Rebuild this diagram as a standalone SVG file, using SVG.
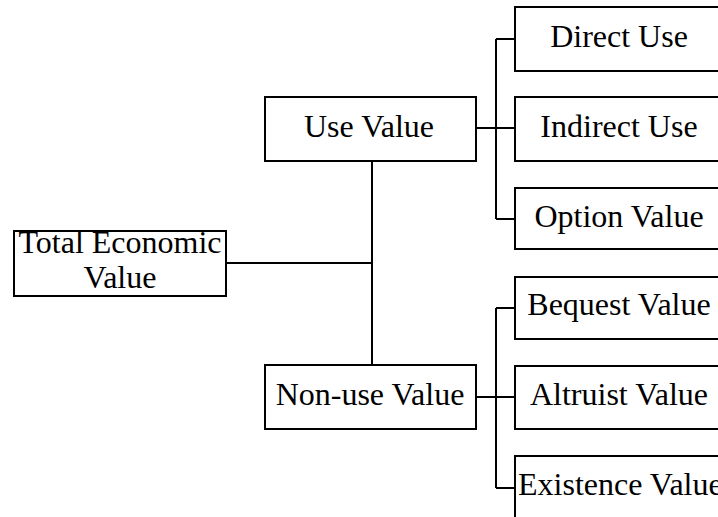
<svg xmlns="http://www.w3.org/2000/svg" width="718" height="517" viewBox="0 0 718 517">
<style>
.box{fill:#fff;stroke:#000;stroke-width:2}
.t{font-family:"Liberation Serif","Times New Roman",serif;font-size:32px;fill:#000;text-anchor:middle}
.c{fill:none;stroke:#000;stroke-width:2}
</style>
<rect width="718" height="517" fill="#fff"/>
<g id="connectors">
<path class="c" d="M226 263H372M372 161V365"/>
<path class="c" d="M476 128H515M496 39V219M496 39H515M496 219H515"/>
<path class="c" d="M476 397H515M496 308V488M496 308H515M496 488H515"/>
</g>
<g id="tev"><rect class="box" x="14" y="231" width="212" height="65"/><text class="t" x="120" y="253">Total Economic</text><text class="t" x="120" y="288">Value</text></g>
<g id="use"><rect class="box" x="265" y="97" width="211" height="64"/><text class="t" x="369" y="137">Use Value</text></g>
<g id="nonuse"><rect class="box" x="265" y="365" width="211" height="64"/><text class="t" x="370" y="405">Non-use Value</text></g>
<g id="direct"><rect class="box" x="515" y="7" width="208" height="64"/><text class="t" x="619" y="47">Direct Use</text></g>
<g id="indirect"><rect class="box" x="515" y="97" width="208" height="64"/><text class="t" x="619" y="137">Indirect Use</text></g>
<g id="option"><rect class="box" x="515" y="188" width="208" height="61"/><text class="t" x="619" y="227">Option Value</text></g>
<g id="bequest"><rect class="box" x="515" y="277" width="208" height="62"/><text class="t" x="619" y="315">Bequest Value</text></g>
<g id="altruist"><rect class="box" x="515" y="366" width="208" height="63"/><text class="t" x="619" y="405">Altruist Value</text></g>
<g id="existence"><rect class="box" x="515" y="456" width="208" height="70"/><text class="t" x="518" y="495" style="text-anchor:start">Existence Value</text></g>
</svg>
